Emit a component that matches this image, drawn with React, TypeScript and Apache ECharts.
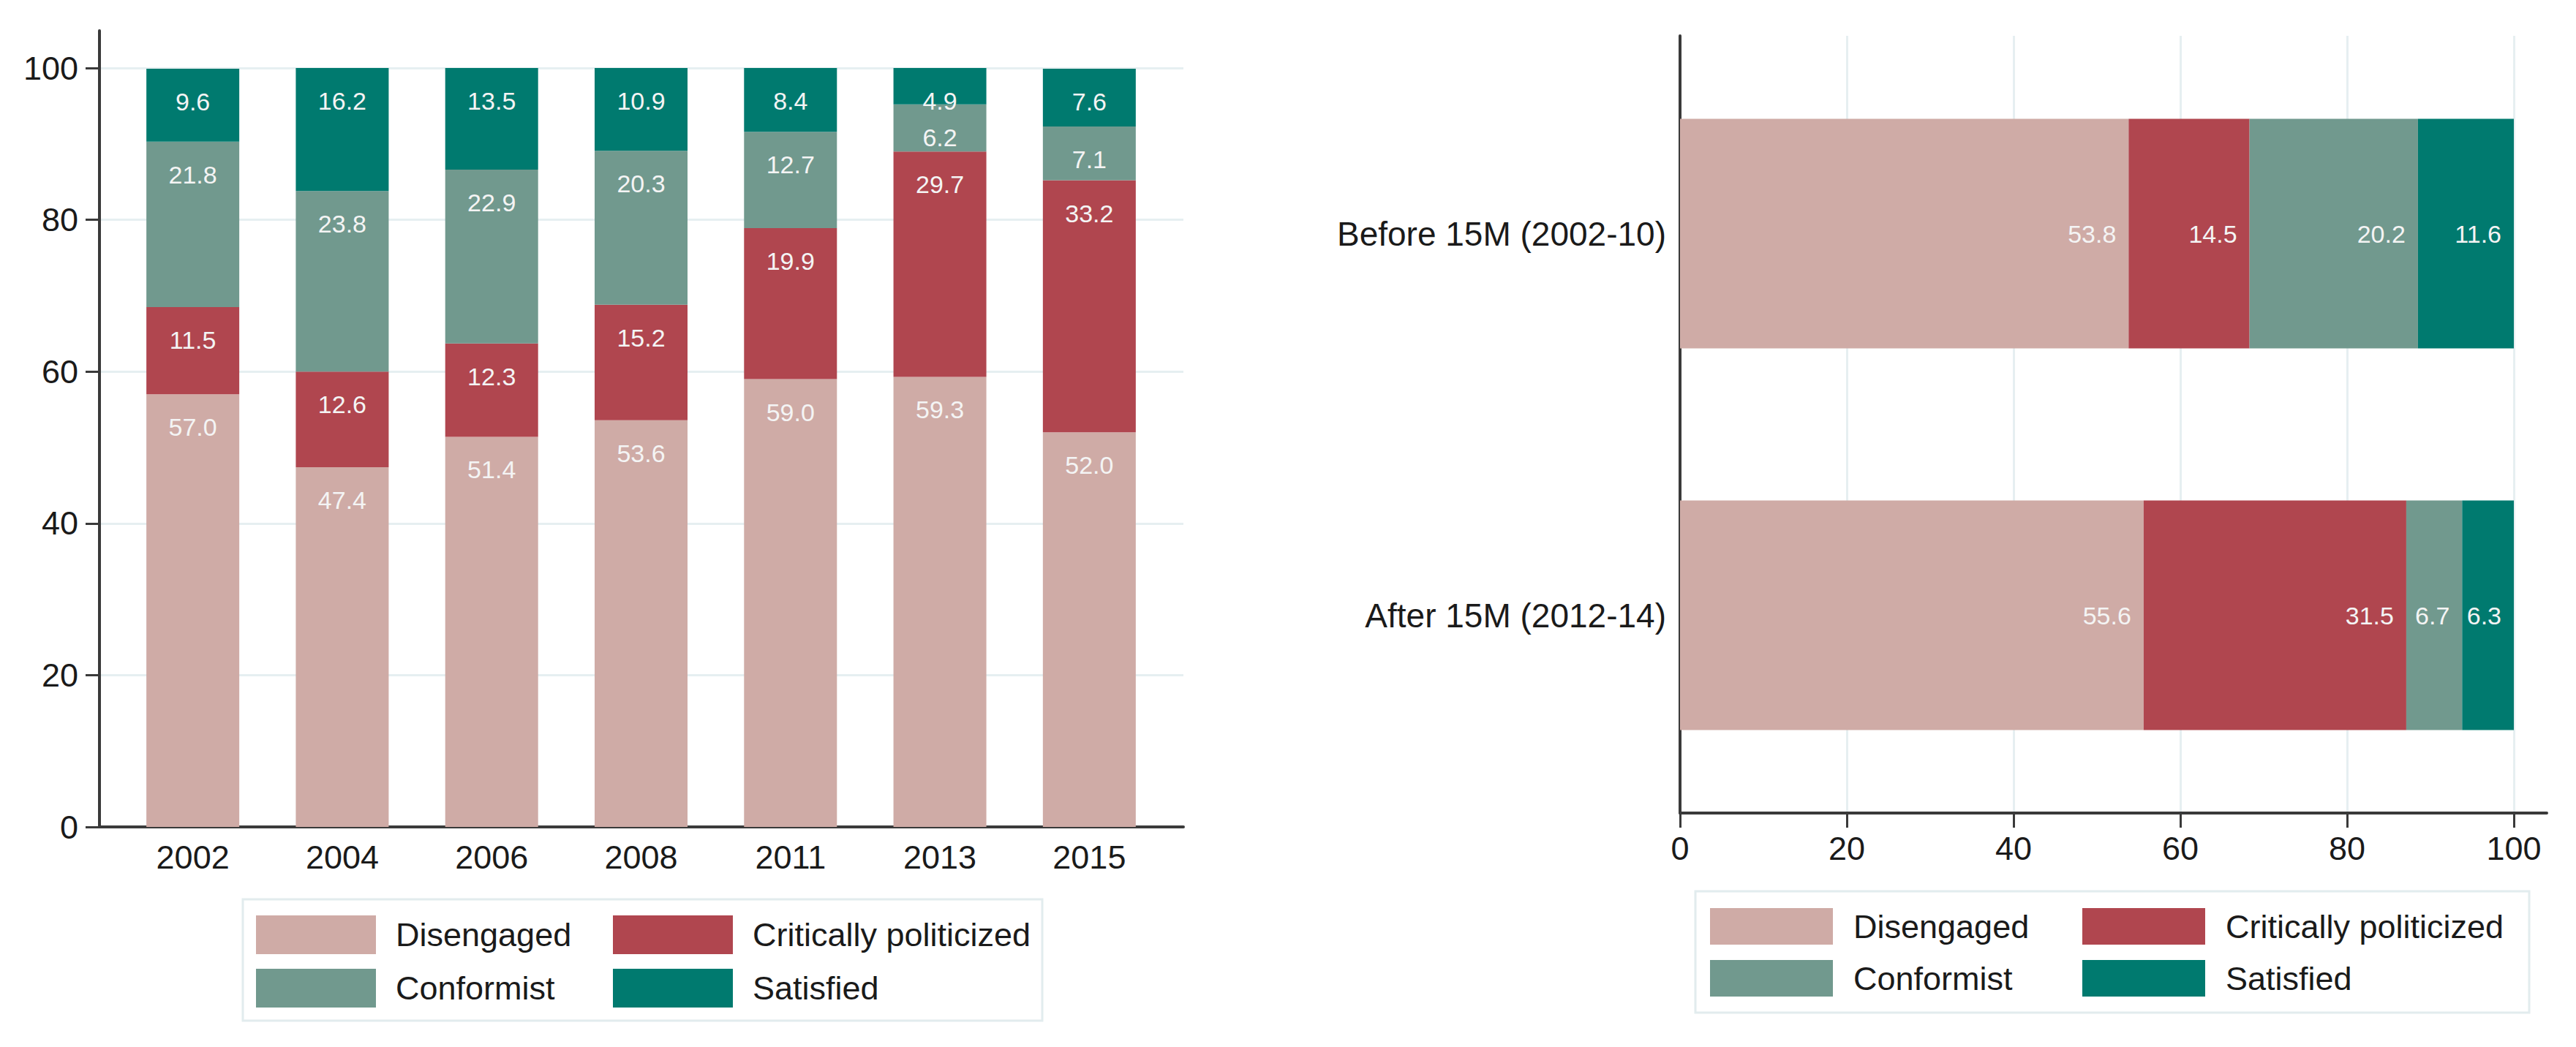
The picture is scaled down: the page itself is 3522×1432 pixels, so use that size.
import React, { useEffect, useRef } from "react";
import * as echarts from "echarts";

// ---- data ----
const years = ["2002", "2004", "2006", "2008", "2011", "2013", "2015"];
const disengagedByYear = [57.0, 47.4, 51.4, 53.6, 59.0, 59.3, 52.0];
const criticalByYear = [11.5, 12.6, 12.3, 15.2, 19.9, 29.7, 33.2];
const conformistByYear = [21.8, 23.8, 22.9, 20.3, 12.7, 6.2, 7.1];
const satisfiedByYear = [9.6, 16.2, 13.5, 10.9, 8.4, 4.9, 7.6];

const periods = ["Before 15M (2002-10)", "After 15M (2012-14)"];
const disengagedByPeriod = [53.8, 55.6];
const criticalByPeriod = [14.5, 31.5];
const conformistByPeriod = [20.2, 6.7];
const satisfiedByPeriod = [11.6, 6.3];

const groupNames = ["Disengaged", "Critically politicized", "Conformist", "Satisfied"];
const groupColors = ["#cfaba6", "#b0464f", "#71998e", "#007a6f"];

const FONT = '"Liberation Sans Narrow", "Liberation Sans", Arial, sans-serif';
const AXIS_COLOR = "#3a3a3a";
const GRID_COLOR = "#e6eff1";

export default function App() {
  const ref = useRef<HTMLDivElement>(null);

  useEffect(() => {
    if (!ref.current) return;
    const chart = echarts.init(ref.current, null, { renderer: "svg" });

    const yearSeries = [disengagedByYear, criticalByYear, conformistByYear, satisfiedByYear];
    const periodSeries = [disengagedByPeriod, criticalByPeriod, conformistByPeriod, satisfiedByPeriod];

    const valueLabel = (p: any) => Number(p.value).toFixed(1);

    const leftBars = yearSeries.map((d, i) => ({
      name: groupNames[i],
      type: "bar",
      stack: "years",
      xAxisIndex: 1,
      yAxisIndex: 1,
      barWidth: 127,
      data: d,
      itemStyle: { color: groupColors[i] },
      label: {
        show: true,
        position: "insideTop",
        distance: 28,
        color: "#f4f4f4",
        fontSize: 34,
        fontFamily: FONT,
        formatter: valueLabel,
      },
    }));

    const rightBars = periodSeries.map((d, i) => ({
      name: groupNames[i],
      type: "bar",
      stack: "periods",
      xAxisIndex: 3,
      yAxisIndex: 3,
      barWidth: 314,
      data: d,
      itemStyle: { color: groupColors[i] },
      label: {
        show: true,
        position: "insideRight",
        distance: 17,
        color: "#f4f4f4",
        fontSize: 34,
        fontFamily: FONT,
        formatter: valueLabel,
      },
    }));

    const legendBase = {
      orient: "vertical",
      icon: "rect",
      padding: 0,
      selectedMode: false,
      textStyle: {
        fontSize: 45,
        fontFamily: FONT,
        color: "#1a1a1a",
        lineHeight: 53,
      },
    };

    const option: any = {
      animation: false,
      backgroundColor: "#ffffff",
      textStyle: { fontFamily: FONT },
      grid: [
        { left: 136, top: 42, width: 1482, height: 1089 },
        { left: 161.5, top: 93, width: 1430, height: 1038 },
        { left: 2297, top: 49, width: 1185, height: 1063 },
        { left: 2297, top: 58.5, width: 1140, height: 1044 },
      ],
      xAxis: [
        {
          gridIndex: 0,
          type: "value",
          min: 0,
          max: 1,
          axisLine: { show: true, lineStyle: { color: AXIS_COLOR, width: 4 } },
          axisTick: { show: false },
          axisLabel: { show: false },
          splitLine: { show: false },
        },
        {
          gridIndex: 1,
          type: "category",
          data: years,
          axisLine: { show: false },
          axisTick: { show: false },
          axisLabel: { fontSize: 45, color: "#1a1a1a", margin: 19, fontFamily: FONT },
        },
        {
          gridIndex: 2,
          type: "value",
          min: 0,
          max: 103.95,
          interval: 20,
          axisLine: { show: true, lineStyle: { color: AXIS_COLOR, width: 4 } },
          axisTick: { show: false },
          axisLabel: { show: false },
          splitLine: {
            show: true,
            showMinLine: false,
            showMaxLine: false,
            lineStyle: { color: GRID_COLOR, width: 3 },
          },
        },
        {
          gridIndex: 3,
          type: "value",
          min: 0,
          max: 100,
          interval: 20,
          offset: 9.5,
          axisLine: { show: false },
          axisTick: { show: true, length: 20, lineStyle: { color: AXIS_COLOR, width: 3 } },
          axisLabel: { fontSize: 45, color: "#1a1a1a", margin: 26, fontFamily: FONT },
          splitLine: { show: false },
        },
      ],
      yAxis: [
        {
          gridIndex: 0,
          type: "value",
          min: 0,
          max: 104.91,
          interval: 20,
          axisLine: { show: true, lineStyle: { color: AXIS_COLOR, width: 4 } },
          axisTick: { show: false },
          axisLabel: { show: false },
          splitLine: {
            show: true,
            showMinLine: false,
            showMaxLine: false,
            lineStyle: { color: GRID_COLOR, width: 3 },
          },
        },
        {
          gridIndex: 1,
          type: "value",
          min: 0,
          max: 100,
          interval: 20,
          offset: 25.5,
          axisLine: { show: false },
          axisTick: { show: true, length: 19, lineStyle: { color: AXIS_COLOR, width: 3 } },
          axisLabel: { fontSize: 45, color: "#1a1a1a", margin: 29, fontFamily: FONT },
          splitLine: { show: false },
        },
        {
          gridIndex: 2,
          type: "value",
          min: 0,
          max: 1,
          axisLine: { show: true, lineStyle: { color: AXIS_COLOR, width: 4 } },
          axisTick: { show: false },
          axisLabel: { show: false },
          splitLine: { show: false },
        },
        {
          gridIndex: 3,
          type: "category",
          inverse: true,
          data: periods,
          axisLine: { show: false },
          axisTick: { show: false },
          axisLabel: { fontSize: 46, color: "#1a1a1a", margin: 19, fontFamily: FONT },
        },
      ],
      legend: [
        { ...legendBase, left: 350, top: 1252, itemWidth: 164, itemHeight: 53, itemGap: 20,
          data: [groupNames[0], groupNames[2]],
          textStyle: { ...legendBase.textStyle, padding: [0, 0, 0, 22] } },
        { ...legendBase, left: 838, top: 1252, itemWidth: 164, itemHeight: 53, itemGap: 20,
          data: [groupNames[1], groupNames[3]],
          textStyle: { ...legendBase.textStyle, padding: [0, 0, 0, 22] } },
        { ...legendBase, left: 2338, top: 1242, itemWidth: 168, itemHeight: 50, itemGap: 21,
          data: [groupNames[0], groupNames[2]],
          textStyle: { ...legendBase.textStyle, lineHeight: 50, padding: [0, 0, 0, 23] } },
        { ...legendBase, left: 2847, top: 1242, itemWidth: 168, itemHeight: 50, itemGap: 21,
          data: [groupNames[1], groupNames[3]],
          textStyle: { ...legendBase.textStyle, lineHeight: 50, padding: [0, 0, 0, 23] } },
      ],
      graphic: [
        {
          type: "rect",
          shape: { x: 332, y: 1230, width: 1093, height: 166 },
          style: { fill: "none", stroke: "#e2ecee", lineWidth: 3 },
          silent: true,
        },
        {
          type: "rect",
          shape: { x: 2318, y: 1219, width: 1140, height: 166 },
          style: { fill: "none", stroke: "#e2ecee", lineWidth: 3 },
          silent: true,
        },
      ],
      series: [...leftBars, ...rightBars],
    };

    chart.setOption(option);
    return () => chart.dispose();
  }, []);

  return (
    <div
      ref={ref}
      style={{ position: "absolute", left: 0, top: 0, width: 3522, height: 1432, background: "#fff" }}
    />
  );
}
